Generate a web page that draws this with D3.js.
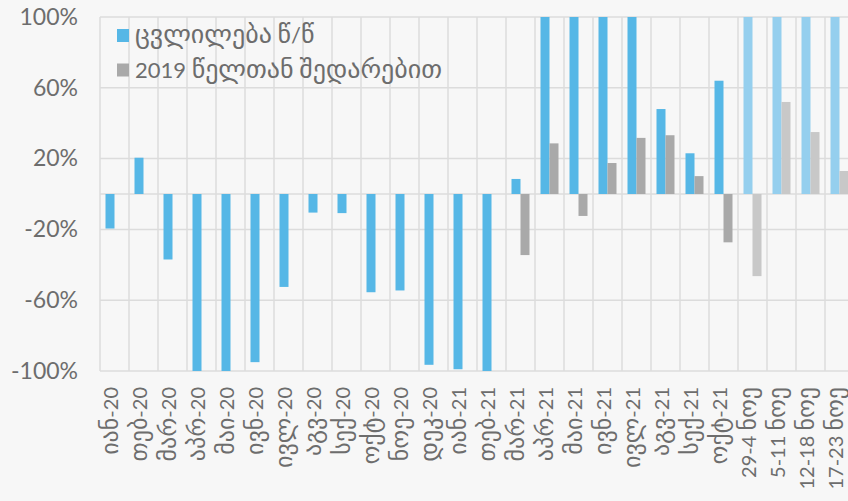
<!DOCTYPE html>
<html>
<head>
<meta charset="utf-8">
<script src="https://cdn.jsdelivr.net/npm/d3@7"></script>
<style>
  html, body { margin: 0; padding: 0; background: #f7f7f7; }
  svg { display: block; }
  text { font-family: "Lato", "DejaVu Sans", sans-serif; fill: #6d6d6d; }
  .geo { font-family: "DejaVu Sans", sans-serif; }
</style>
</head>
<body>
<svg id="chart" width="848" height="501"></svg>
<script>
const categories = ["იან-20","თებ-20","მარ-20","აპრ-20","მაი-20","ივნ-20","ივლ-20","აგვ-20","სექ-20","ოქტ-20","ნოე-20","დეკ-20","იან-21","თებ-21","მარ-21","აპრ-21","მაი-21","ივნ-21","ივლ-21","აგვ-21","სექ-21","ოქტ-21","29-4 ნოე","5-11 ნოე","12-18 ნოე","17-23 ნოე"];
const yoyChange = [-19.5, 20.5, -37, -100, -100, -95, -52.5, -10.5, -10.8, -55.5, -54.5, -96.5, -99, -100, 8.5, 160, 180, 150, 130, 48, 23, 64, 140, 170, 150, 135];
const vs2019Values = [null, null, null, null, null, null, null, null, null, null, null, null, null, null, -34.5, 28.6, -12.4, 17.5, 31.7, 33.2, 10.1, -27.3, -46.4, 52, 35, 13];
const weekly = [false, false, false, false, false, false, false, false, false, false, false, false, false, false, false, false, false, false, false, false, false, false, true, true, true, true];
const yTicks = [-100, -60, -20, 20, 60, 100];
const gridValues = [-100, -60, -20, 0, 20, 60, 100];
const seriesNames = ["ცვლილება წ/წ", "2019 წელთან შედარებით"];

const svg = d3.select("#chart");
const pLeft = 100, pRight = 854, pTop = 17, pBottom = 371;

const x = d3.scaleBand().domain(categories).range([pLeft, pRight]).paddingInner(0).paddingOuter(0);
const y = d3.scaleLinear().domain([-100, 100]).range([pBottom, pTop]);
const barW = 9;

const colors = { blue: "#56b7e6", gray: "#a9a9a9", blueLight: "#95cfee", grayLight: "#c8c8c8" };

// split text into Georgian / other runs with separate sizes
function fillMixed(textSel, str, latinSize, geoSize) {
  textSel.text(null);
  const runs = str.match(/[\u10A0-\u10FF]+|[^\u10A0-\u10FF]+/g) || [];
  runs.forEach(r => {
    const isGeo = /[\u10A0-\u10FF]/.test(r);
    textSel.append("tspan").text(r)
      .attr("class", isGeo ? "geo" : null)
      .style("font-size", (isGeo ? geoSize : latinSize) + "px");
  });
}

// gridlines
const grid = svg.append("g");
grid.selectAll("line.h").data(gridValues).join("line")
  .attr("x1", pLeft).attr("x2", pRight)
  .attr("y1", d => y(d)).attr("y2", d => y(d))
  .attr("stroke", "#dcdcdc").attr("stroke-width", 1.5);
const bounds = categories.map(c => x(c)).concat([pRight]);
grid.selectAll("line.v").data(bounds).join("line")
  .attr("x1", d => d).attr("x2", d => d)
  .attr("y1", pTop).attr("y2", pBottom)
  .attr("stroke", "#dcdcdc").attr("stroke-width", 1.5);

svg.append("defs").append("clipPath").attr("id", "plotclip")
  .append("rect").attr("x", pLeft).attr("y", pTop).attr("width", pRight - pLeft).attr("height", pBottom - pTop);

const bars = svg.append("g").attr("clip-path", "url(#plotclip)");
const rows = categories.map((c, i) => ({ c, a: yoyChange[i], b: vs2019Values[i], w: weekly[i] }));

bars.selectAll("rect.a").data(rows.filter(d => d.a != null)).join("rect")
  .attr("x", d => x(d.c) + x.bandwidth() / 2 - barW)
  .attr("width", barW)
  .attr("y", d => y(Math.max(0, d.a)))
  .attr("height", d => Math.abs(y(d.a) - y(0)))
  .attr("fill", d => d.w ? colors.blueLight : colors.blue);

bars.selectAll("rect.b").data(rows.filter(d => d.b != null)).join("rect")
  .attr("x", d => x(d.c) + x.bandwidth() / 2)
  .attr("width", barW)
  .attr("y", d => y(Math.max(0, d.b)))
  .attr("height", d => Math.abs(y(d.b) - y(0)))
  .attr("fill", d => d.w ? colors.grayLight : colors.gray);

// y axis labels
const yAxis = d3.axisLeft(y).tickValues(yTicks).tickFormat(d => d + "%").tickSize(0).tickPadding(0);
const yg = svg.append("g").attr("transform", "translate(78,0)").call(yAxis);
yg.attr("font-family", null);
yg.select(".domain").remove();
yg.selectAll("text").style("font-size", "23px").attr("fill", "#6d6d6d");

// x axis labels
const xAxis = d3.axisBottom(x).tickSize(0).tickPadding(0);
const xg = svg.append("g").attr("transform", `translate(0,${pBottom})`).call(xAxis);
xg.attr("font-family", null);
xg.select(".domain").remove();
xg.selectAll("text")
  .attr("fill", "#6d6d6d")
  .attr("text-anchor", "end")
  .attr("transform", "rotate(-90)")
  .attr("x", -16).attr("y", 0).attr("dy", "0.36em")
  .each(function(d) { fillMixed(d3.select(this), d, 20, 24); });

// legend
const legend = svg.append("g");
const legendColors = [colors.blue, colors.gray];
seriesNames.forEach((name, i) => {
  legend.append("rect").attr("x", 117).attr("y", 29 + i * 34.5).attr("width", 12).attr("height", 13).attr("fill", legendColors[i]);
  const t = legend.append("text").attr("x", 135).attr("y", 43 + i * 34.5);
  fillMixed(t, name, 22, 26);
});
</script>
</body>
</html>
